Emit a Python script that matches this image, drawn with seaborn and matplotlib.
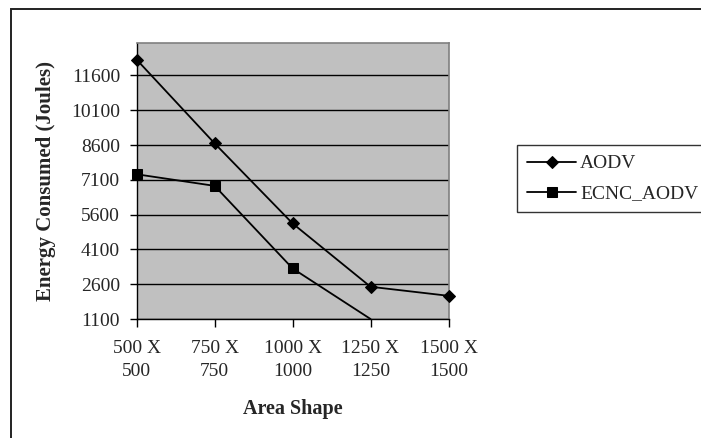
import numpy as np
import pandas as pd
import matplotlib
matplotlib.use("Agg")
import matplotlib.pyplot as plt
from matplotlib.patches import Rectangle
import seaborn as sns

# Data
area_shapes = ["500 X\n500", "750 X\n750", "1000 X\n1000", "1250 X\n1250", "1500 X\n1500"]
aodv = [12280, 8670, 5220, 2490, 2100]
ecnc_aodv = [7340, 6840, 3280, 1100, np.nan]
series_names = ["AODV", "ECNC_AODV"]
y_ticks = [1100, 2600, 4100, 5600, 7100, 8600, 10100, 11600]
y_min, y_max = 1100, 13000

df = pd.DataFrame({
    "Area Shape": area_shapes * 2,
    "Energy": aodv + ecnc_aodv,
    "Protocol": [series_names[0]] * len(area_shapes) + [series_names[1]] * len(area_shapes),
}).dropna()

sns.set_theme(style="white")
plt.rcParams["font.family"] = ["Liberation Serif", "DejaVu Serif"]

fig = plt.figure(figsize=(7.01, 4.38), dpi=100)
ax = fig.add_axes([136.7 / 701, 1 - 319 / 438, (448.5 - 136.7) / 701, (319 - 43) / 438])
ax.set_facecolor("#C0C0C0")

sns.lineplot(
    data=df, x="Area Shape", y="Energy", hue="Protocol", style="Protocol",
    palette=["black", "black"], markers={"AODV": "D", "ECNC_AODV": "s"},
    dashes=False, sort=False, linewidth=1.3, markersize=7.5,
    markeredgecolor="black", ax=ax,
)

# Lines: size the diamonds, let markers sit on the plot edge, and hide
# markers that reach the bottom of the value axis
for line, vals in zip(ax.lines[:2], [aodv, ecnc_aodv]):
    vals = [v for v in vals if not np.isnan(v)]
    line.set_markevery([i for i, v in enumerate(vals) if v > y_min])
    line.set_clip_on(False)
    line.set_zorder(5)
    if line.get_marker() == "D":
        line.set_markersize(5.8)

ax.set_xlim(0, len(area_shapes) - 1)
ax.set_ylim(y_min, y_max)
ax.set_yticks(y_ticks)
ax.set_yticklabels([str(t) for t in y_ticks])
for t in y_ticks:
    ax.axhline(t, color="black", linewidth=1.0, zorder=1)

for s in ["top", "right"]:
    ax.spines[s].set_color("#808080")
    ax.spines[s].set_linewidth(1.2)
for s in ["left", "bottom"]:
    ax.spines[s].set_color("black")
    ax.spines[s].set_linewidth(1.0)

ax.tick_params(axis="y", direction="out", length=5, width=1, color="black",
               labelsize=14, pad=7, left=True)
ax.tick_params(axis="x", direction="out", length=6, width=1, color="black",
               labelsize=14, pad=9, bottom=True)
for lbl in ax.get_xticklabels():
    lbl.set_linespacing(1.5)

ax.set_xlabel("Area Shape", fontsize=14.5, fontweight="bold")
ax.set_ylabel("Energy Consumed (Joules)", fontsize=15, fontweight="bold")
ax.xaxis.set_label_coords(0.5, -0.29)
ax.yaxis.set_label_coords(-0.26, 0.5)

handles, labels = ax.get_legend_handles_labels()
for h in handles:
    h.set_linewidth(1.3)
    if h.get_marker() == "D":
        h.set_markersize(5.8)
    else:
        h.set_markersize(7.5)
leg = ax.legend(
    handles, labels, loc="upper left",
    bbox_to_anchor=(517 / 701, 1 - 145 / 438), bbox_transform=fig.transFigure,
    fontsize=14, frameon=True, fancybox=False, borderaxespad=0,
    borderpad=0.5, labelspacing=0.65, handlelength=2.55, handletextpad=0.2,
)
leg.get_frame().set_edgecolor("black")
leg.get_frame().set_linewidth(1.0)
leg.get_frame().set_facecolor("white")

# Outer chart frame
fig.patches.append(Rectangle((11 / 701, -0.05), 1.0, 1 - 8.5 / 438 + 0.05,
                             transform=fig.transFigure, fill=False,
                             edgecolor="#222222", linewidth=1.4, zorder=0))

fig.savefig("out.png", dpi=100)
